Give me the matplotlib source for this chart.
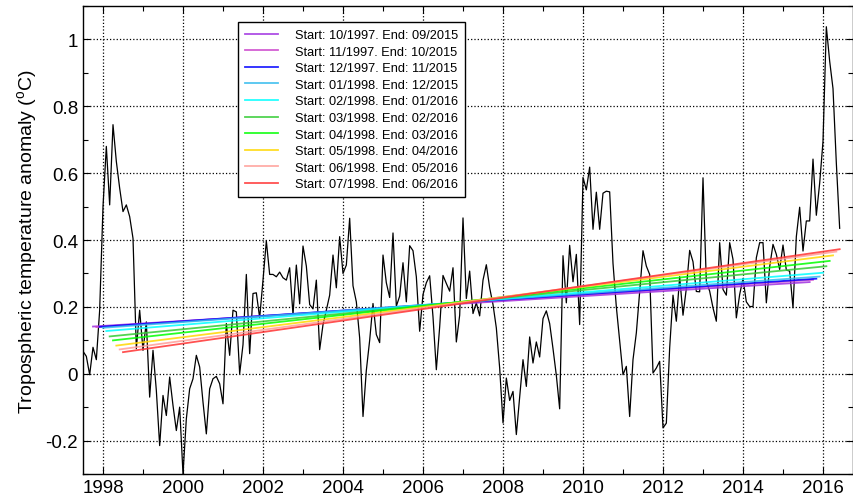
import numpy as np
import matplotlib
matplotlib.use("Agg")
import matplotlib.pyplot as plt
from matplotlib.ticker import MultipleLocator

plt.rcParams["font.family"] = ["Liberation Sans", "DejaVu Sans"]
plt.rcParams["mathtext.fontset"] = "custom"
plt.rcParams["mathtext.rm"] = "Liberation Sans"

# Monthly anomalies, 07/1997 .. 06/2016
anomaly = [
    0.067, 0.052, -0.003, 0.079, 0.042, 0.19, 0.50, 0.68, 0.505, 0.745,
    0.635, 0.555, 0.485, 0.505, 0.47, 0.405, 0.075, 0.19, 0.07, 0.155,
    -0.07, 0.07, -0.05, -0.215, -0.065, -0.125, -0.01, -0.095, -0.17, -0.1,
    -0.30, -0.135, -0.045, -0.015, 0.055, 0.02, -0.085, -0.18, -0.045, -0.015,
    -0.008, -0.03, -0.09, 0.15, 0.055, 0.19, 0.185, 0.0, 0.087, 0.297,
    0.06, 0.24, 0.242, 0.167, 0.28, 0.397, 0.297, 0.297, 0.29, 0.304,
    0.287, 0.28, 0.317, 0.177, 0.325, 0.209, 0.382, 0.322, 0.207, 0.194,
    0.28, 0.072, 0.147, 0.19, 0.235, 0.355, 0.257, 0.41, 0.30, 0.325,
    0.465, 0.263, 0.215, 0.107, -0.128, 0.01, 0.10, 0.21, 0.117, 0.093,
    0.355, 0.272, 0.228, 0.421, 0.202, 0.232, 0.332, 0.215, 0.383, 0.368,
    0.29, 0.127, 0.237, 0.272, 0.293, 0.17, 0.012, 0.14, 0.294, 0.27,
    0.247, 0.317, 0.095, 0.175, 0.466, 0.225, 0.307, 0.18, 0.212, 0.173,
    0.28, 0.326, 0.257, 0.207, 0.137, 0.017, -0.147, -0.013, -0.08, -0.053,
    -0.182, -0.07, 0.042, -0.038, 0.11, 0.032, 0.095, 0.05, 0.165, 0.188,
    0.15, 0.075, -0.005, -0.105, 0.353, 0.212, 0.384, 0.275, 0.357, 0.147,
    0.587, 0.55, 0.618, 0.432, 0.543, 0.432, 0.54, 0.546, 0.544, 0.33,
    0.2, 0.1, -0.003, 0.022, -0.128, 0.042, 0.122, 0.247, 0.368, 0.322,
    0.297, 0.002, 0.017, 0.037, -0.162, -0.148, 0.077, 0.235, 0.157, 0.29,
    0.175, 0.255, 0.369, 0.335, 0.246, 0.245, 0.586, 0.275, 0.247, 0.197,
    0.157, 0.392, 0.252, 0.235, 0.392, 0.342, 0.167, 0.237, 0.285, 0.215,
    0.201, 0.201, 0.347, 0.392, 0.392, 0.212, 0.32, 0.387, 0.357, 0.312,
    0.385, 0.31, 0.307, 0.197, 0.41, 0.498, 0.367, 0.457, 0.457, 0.642,
    0.474, 0.57, 0.695, 1.038, 0.935, 0.853, 0.63, 0.435,
]
first_year = 1997
first_month = 7

# 18-year trend windows
window_starts = ["10/1997", "11/1997", "12/1997", "01/1998", "02/1998",
                 "03/1998", "04/1998", "05/1998", "06/1998", "07/1998"]
window_ends = ["09/2015", "10/2015", "11/2015", "12/2015", "01/2016",
               "02/2016", "03/2016", "04/2016", "05/2016", "06/2016"]
trend_colors = ["#A030E0", "#CC44CC", "#0000FF", "#33BBEE", "#00FFFF",
                "#33CC33", "#00FF00", "#FFD700", "#FF9E98", "#FF3333"]

y = np.array(anomaly)
t = first_year + (first_month - 1) / 12 + np.arange(len(y)) / 12


def month_index(s):
    m, yr = s.split("/")
    return (int(yr) - first_year) * 12 + int(m) - first_month


fig = plt.figure(figsize=(8.54, 5.02), dpi=100)
ax = fig.add_axes([83 / 854, 27 / 502, 770 / 854, 468 / 502])

ax.plot(t, y, color="black", lw=0.9, zorder=3)

for s, e, c in zip(window_starts, window_ends, trend_colors):
    i0, i1 = month_index(s), month_index(e) + 1
    slope, icept = np.polyfit(t[i0:i1], y[i0:i1], 1)
    ax.plot(t[i0:i1], slope * t[i0:i1] + icept, color=c, lw=1.3, alpha=0.85,
            zorder=4, label=f"Start: {s}. End: {e}")

ax.set_xlim(1997.5, 2016.75)
ax.set_ylim(-0.3, 1.1)
ax.xaxis.set_major_locator(MultipleLocator(2))
ax.xaxis.set_minor_locator(MultipleLocator(1))
ax.yaxis.set_minor_locator(MultipleLocator(0.1))
ax.set_yticks(np.arange(-0.2, 1.01, 0.2))
ax.set_yticklabels(["-0.2", "0", "0.2", "0.4", "0.6", "0.8", "1"])
ax.tick_params(which="both", direction="in", top=True, right=True,
               labelsize=13.5, width=0.8)
ax.tick_params(which="major", length=5)
ax.tick_params(which="minor", length=3.5)
ax.grid(which="major", color="black", linestyle=":", lw=0.9)
for sp in ax.spines.values():
    sp.set_linewidth(1.0)

ax.set_ylabel(r"Tropospheric temperature anomaly ($^\mathrm{o}$C)", fontsize=14)

leg = ax.legend(loc="upper left", bbox_to_anchor=(155 / 770, 452 / 468),
                borderaxespad=0, fontsize=9.2, fancybox=False, framealpha=1,
                edgecolor="black", handlelength=2.6, handletextpad=1.3,
                labelspacing=0.36, borderpad=0.55)
leg.get_frame().set_linewidth(1.0)

fig.savefig("out.png", dpi=100)
